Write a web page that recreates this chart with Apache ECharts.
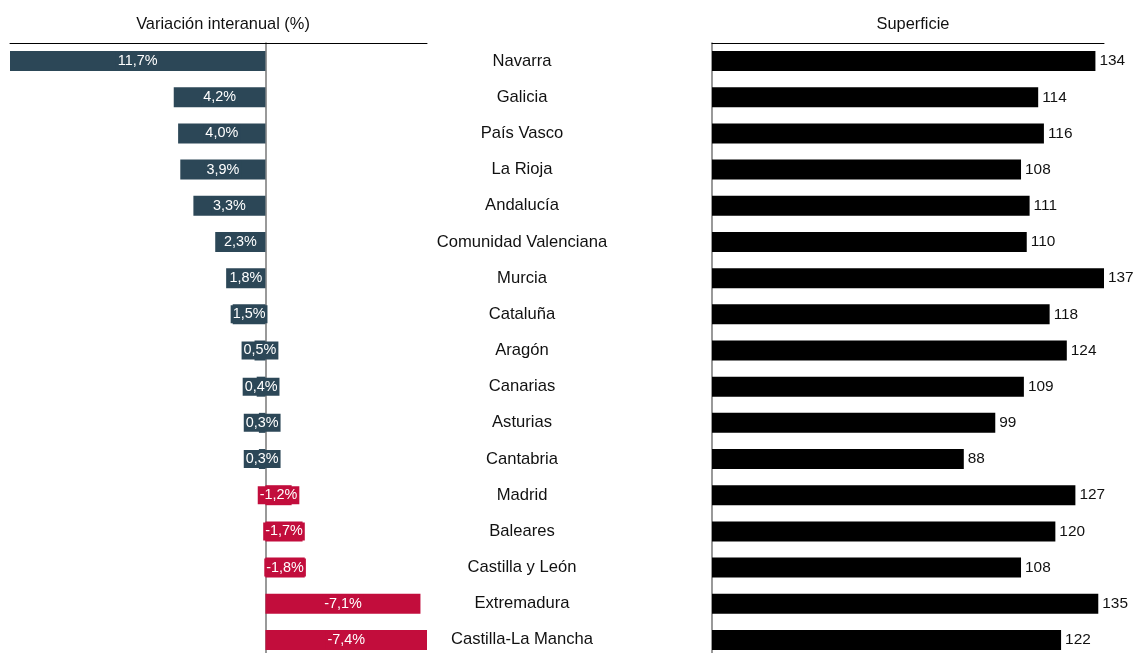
<!DOCTYPE html>
<html>
<head>
<meta charset="utf-8">
<script src="https://cdn.jsdelivr.net/npm/echarts@6/dist/echarts.min.js"></script>
<style>
  html, body { margin: 0; padding: 0; background: #fff; }
  #chart { width: 1136px; height: 653px; }
</style>
</head>
<body>
<div id="chart"></div>
<script>
  const categories = ['Navarra', 'Galicia', 'País Vasco', 'La Rioja', 'Andalucía', 'Comunidad Valenciana', 'Murcia', 'Cataluña', 'Aragón', 'Canarias', 'Asturias', 'Cantabria', 'Madrid', 'Baleares', 'Castilla y León', 'Extremadura', 'Castilla-La Mancha']
  const variacion = [11.7, 4.2, 4.0, 3.9, 3.3, 2.3, 1.8, 1.5, 0.5, 0.4, 0.3, 0.3, -1.2, -1.7, -1.8, -7.1, -7.4]
  const superficie = [134, 114, 116, 108, 111, 110, 137, 118, 124, 109, 99, 88, 127, 120, 108, 135, 122]

  const FONT = '"Liberation Sans", Arial, sans-serif'
  const POS = '#2c4757'
  const NEG = '#c20d3c'

  const colorOf = (v) => (v >= 0 ? POS : NEG)
  const fmtPct = (v) => v.toFixed(1).replace('.', ',') + '%'

  const chart = echarts.init(document.getElementById('chart'))

  chart.setOption({
    animation: false,
    textStyle: { fontFamily: FONT },
    title: [
      {
        text: 'Variación interanual (%)',
        left: 218, top: 11, textAlign: 'center',
        textStyle: { fontSize: 16.4, fontWeight: 'normal', color: '#111', fontFamily: FONT }
      },
      {
        text: 'Superficie',
        left: 908, top: 11, textAlign: 'center',
        textStyle: { fontSize: 16.4, fontWeight: 'normal', color: '#111', fontFamily: FONT }
      }
    ],
    grid: [
      { left: 10, width: 417, top: 43, height: 615, outerBoundsMode: 'none', containLabel: false },
      { left: 712, width: 392, top: 43, height: 615, outerBoundsMode: 'none', containLabel: false }
    ],
    xAxis: [
      {
        gridIndex: 0,
        type: 'value',
        inverse: true,
        min: -7.4,
        max: 11.7,
        position: 'top',
        axisLine: { show: true, onZero: false, lineStyle: { color: '#000', width: 1 } },
        axisTick: { show: false },
        axisLabel: { show: false },
        splitLine: { show: false }
      },
      {
        gridIndex: 1,
        type: 'value',
        min: 0,
        max: 137,
        position: 'top',
        axisLine: { show: true, onZero: false, lineStyle: { color: '#000', width: 1 } },
        axisTick: { show: false },
        axisLabel: { show: false },
        splitLine: { show: false }
      }
    ],
    yAxis: [
      {
        gridIndex: 0,
        type: 'category',
        data: categories,
        inverse: true,
        axisLine: { show: true, onZero: true, lineStyle: { color: '#777', width: 1.5 } },
        axisTick: { show: false },
        axisLabel: { show: false }
      },
      {
        gridIndex: 0,
        type: 'category',
        data: categories,
        inverse: true,
        position: 'right',
        axisLine: { show: false },
        axisTick: { show: false },
        axisLabel: {
          align: 'center',
          margin: 95,
          fontSize: 16.6,
          color: '#111',
          fontFamily: FONT
        }
      },
      {
        gridIndex: 1,
        type: 'category',
        data: categories,
        inverse: true,
        axisLine: { show: true, lineStyle: { color: '#777', width: 1.5 } },
        axisTick: { show: false },
        axisLabel: { show: false }
      }
    ],
    series: [
      {
        type: 'bar',
        xAxisIndex: 0,
        yAxisIndex: 0,
        barWidth: 20,
        data: variacion.map((v) => ({
          value: v,
          itemStyle: { color: colorOf(v) },
          label: { backgroundColor: colorOf(v) }
        })),
        label: {
          show: true,
          position: 'inside',
          color: '#fff',
          fontSize: 14.4,
          fontFamily: FONT,
          padding: [3, 2, 1, 2],
          formatter: (p) => fmtPct(p.value)
        }
      },
      {
        type: 'bar',
        xAxisIndex: 1,
        yAxisIndex: 2,
        barWidth: 20,
        itemStyle: { color: '#000' },
        data: superficie,
        label: {
          show: true,
          position: 'right',
          distance: 4,
          color: '#111',
          fontSize: 15.4,
          fontFamily: FONT
        }
      }
    ]
  })
</script>
</body>
</html>
